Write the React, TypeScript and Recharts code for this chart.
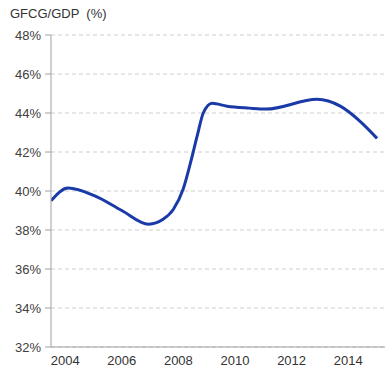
import { LineChart, Line, XAxis, YAxis, CartesianGrid } from 'recharts';

// points (fractional year, % of GDP)
const years = [2003.5, 2004.1, 2005.05, 2006.0, 2006.95, 2007.46, 2007.82, 2008.17, 2008.42, 2008.66, 2008.88, 2009.19, 2009.72, 2010.5, 2011.1, 2012.9, 2013.72, 2014.4, 2015.02];
const ratio = [39.5, 40.15, 39.75, 39.0, 38.3, 38.55, 39.05, 40.1, 41.4, 42.8, 44.0, 44.5, 44.35, 44.25, 44.2, 44.7, 44.35, 43.6, 42.7];
const xTicks = [2004, 2006, 2008, 2010, 2012, 2014];
const yTicks = [32, 34, 36, 38, 40, 42, 44, 46, 48];

const data = years.map((year, i) => ({ year, value: ratio[i] }));

const font = '"Liberation Sans", Arial, sans-serif';

export default function App() {
  return (
    <div style={{ position: 'absolute', left: 0, top: 0, width: 390, height: 374, background: '#fff', fontFamily: font }}>
      <div style={{ position: 'absolute', left: 10, top: 6, fontSize: 13, color: '#333', whiteSpace: 'pre' }}>
        {'GFCG/GDP  (%)'}
      </div>
      <LineChart width={390} height={374} data={data} margin={{ top: 35, right: 5, bottom: 0, left: 0 }}>
        <CartesianGrid horizontal vertical={false} stroke="#cfcfcf" strokeDasharray="4 3" />
        <XAxis
          dataKey="year"
          type="number"
          domain={[2003.5, 2015.3]}
          ticks={xTicks}
          allowDataOverflow
          height={27}
          tickLine={false}
          stroke="#a0a0a0"
          tick={{ fill: '#333', fontSize: 13, fontFamily: font }}
          tickMargin={3}
        />
        <YAxis
          type="number"
          domain={[32, 48]}
          ticks={yTicks}
          width={51}
          stroke="#a0a0a0"
          tickFormatter={(v) => `${v}%`}
          tick={{ fill: '#404040', fontSize: 13, fontFamily: font }}
          tickMargin={4}
        />
        <Line type="monotone" dataKey="value" stroke="#1a3aa8" strokeWidth={3} dot={false} isAnimationActive={false} />
      </LineChart>
    </div>
  );
}
